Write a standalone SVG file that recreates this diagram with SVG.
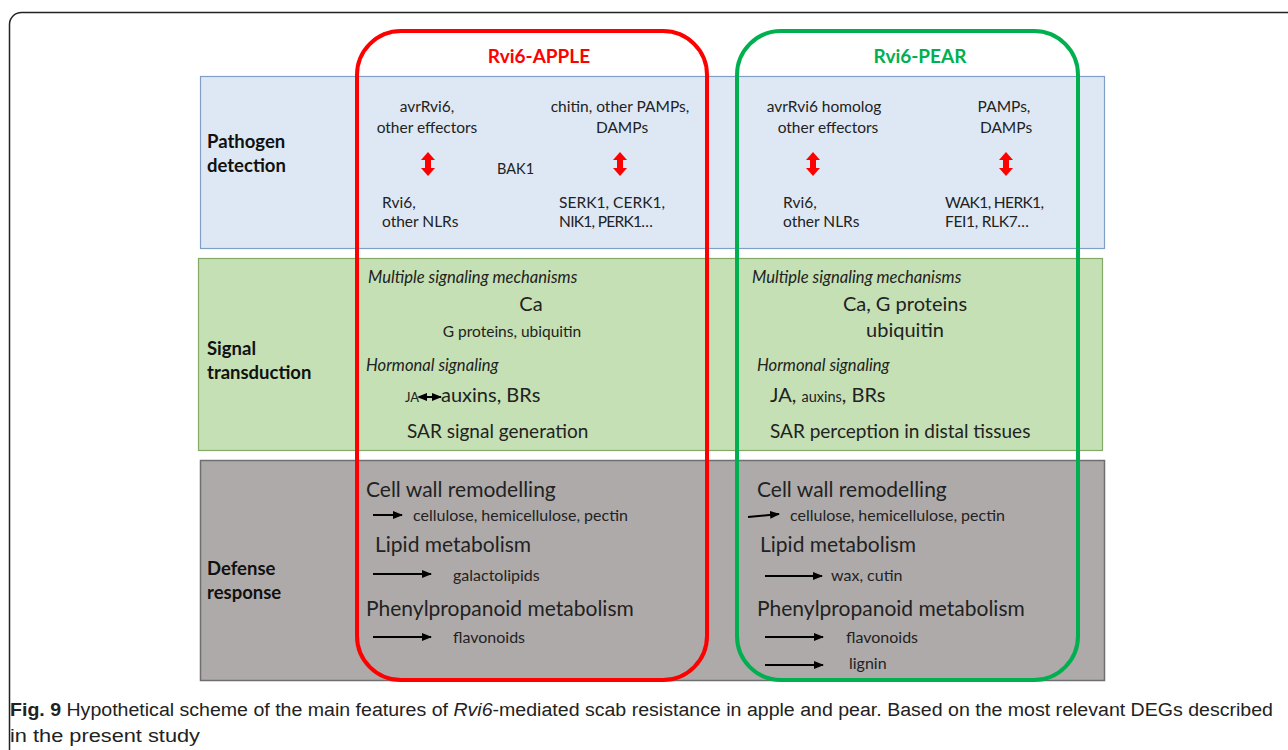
<svg xmlns="http://www.w3.org/2000/svg" width="1288" height="750" viewBox="0 0 1288 750">
<defs>
<style>
.t{font-family:Lato,"Open Sans","Liberation Sans",sans-serif;fill:#222;}
.s{font-size:15.5px;}
.d{font-size:16px;}
.m{font-size:19px;}
.L{font-size:21px;}
.h{font-size:18.5px;font-weight:bold;fill:#111;}
.i{font-style:italic;font-size:16.6px;}
.cap{font-family:"Liberation Sans Narrow","Liberation Sans",sans-serif;font-size:18px;fill:#222;}
.ar{stroke:#000;stroke-width:2;fill:none;}
</style>
<marker id="ah" viewBox="0 0 10 10" refX="9" refY="5" markerWidth="5" markerHeight="5" orient="auto"><path d="M0,1 L10,5 L0,9 Z" fill="#000"/></marker>
<marker id="ahs" viewBox="0 0 10 10" refX="1" refY="5" markerWidth="5" markerHeight="5" orient="auto-start-reverse"><path d="M0,1 L10,5 L0,9 Z" fill="#000"/></marker>
<path id="dbl" d="M0,-12 L7,-4 L3,-4 L3,4 L7,4 L0,12 L-7,4 L-3,4 L-3,-4 L-7,-4 Z" fill="#ff0000"/>
</defs>
<rect width="1288" height="750" fill="#fff"/>
<rect x="9.5" y="12.5" width="1320" height="800" rx="12" fill="none" stroke="#222" stroke-width="1.5"/>

<g id="band-detection">
<rect x="200.5" y="76.5" width="904" height="172" fill="#dee8f4" stroke="#7f9fc6" stroke-width="1.2"/>
<text class="t h" x="207" y="148">Pathogen</text>
<text class="t h" x="207" y="172">detection</text>
</g>
<g id="band-signal">
<rect x="198.5" y="258.5" width="904" height="192" fill="#c5e0b4" stroke="#84a865" stroke-width="1.2"/>
<text class="t h" x="207" y="355">Signal</text>
<text class="t h" x="207" y="379">transduction</text>
</g>
<g id="band-defense">
<rect x="200.5" y="460.5" width="904" height="220" fill="#aeaaaa" stroke="#6f6f6f" stroke-width="1.5"/>
<text class="t h" x="207" y="575">Defense</text>
<text class="t h" x="207" y="599">response</text>
</g>

<g id="apple">
<rect x="357" y="31" width="350" height="649" rx="44" fill="none" stroke="#ff0000" stroke-width="4"/>
<text class="t" x="539" y="63" text-anchor="middle" font-size="19" font-weight="bold" style="fill:#ff0000">Rvi6-APPLE</text>
<text class="t s" x="427" y="112" text-anchor="middle">avrRvi6,</text>
<text class="t s" x="427" y="133" text-anchor="middle">other effectors</text>
<text class="t s" x="620" y="112" text-anchor="middle">chitin, other PAMPs,</text>
<text class="t s" x="622" y="133" text-anchor="middle">DAMPs</text>
<use href="#dbl" x="428" y="164"/>
<use href="#dbl" x="620" y="164"/>
<text class="t" x="497" y="174" font-size="14.5">BAK1</text>
<text class="t s" x="382" y="208">Rvi6,</text>
<text class="t s" x="382" y="227">other NLRs</text>
<text class="t s" x="559" y="208" textLength="106" lengthAdjust="spacing">SERK1, CERK1,</text>
<text class="t s" x="559" y="227" textLength="94" lengthAdjust="spacing">NIK1, PERK1…</text>
<text class="t i" x="368" y="283">Multiple signaling mechanisms</text>
<text class="t" x="531" y="311" text-anchor="middle" font-size="20">Ca</text>
<text class="t s" x="512" y="337" text-anchor="middle">G proteins, ubiquitin</text>
<text class="t i" x="366" y="371">Hormonal signaling</text>
<text class="t" x="405" y="402" font-size="13">JA</text>
<text class="t" x="441" y="402" font-size="20">auxins, BRs</text>
<text class="t m" x="407" y="438">SAR signal generation</text>
<text class="t L" x="366" y="497">Cell wall remodelling</text>
<text class="t d" x="413" y="521">cellulose, hemicellulose, pectin</text>
<text class="t L" x="375" y="552">Lipid metabolism</text>
<text class="t d" x="453" y="581">galactolipids</text>
<text class="t L" x="366" y="616">Phenylpropanoid metabolism</text>
<text class="t d" x="453" y="643">flavonoids</text>
</g>

<g id="pear">
<rect x="737" y="31" width="341" height="649" rx="44" fill="none" stroke="#00b050" stroke-width="4"/>
<text class="t" x="920" y="63" text-anchor="middle" font-size="19" font-weight="bold" style="fill:#00b050">Rvi6-PEAR</text>
<text class="t s" x="824" y="112" text-anchor="middle">avrRvi6 homolog</text>
<text class="t s" x="828" y="133" text-anchor="middle">other effectors</text>
<text class="t s" x="1004" y="112" text-anchor="middle">PAMPs,</text>
<text class="t s" x="1006" y="133" text-anchor="middle">DAMPs</text>
<use href="#dbl" x="813" y="164"/>
<use href="#dbl" x="1006" y="164"/>
<text class="t s" x="783" y="208">Rvi6,</text>
<text class="t s" x="783" y="227">other NLRs</text>
<text class="t s" x="945" y="208" textLength="99" lengthAdjust="spacing">WAK1, HERK1,</text>
<text class="t s" x="945" y="227" textLength="84" lengthAdjust="spacing">FEI1, RLK7…</text>
<text class="t i" x="752" y="283">Multiple signaling mechanisms</text>
<text class="t" x="905" y="311" text-anchor="middle" font-size="20">Ca, G proteins</text>
<text class="t" x="905" y="337" text-anchor="middle" font-size="20">ubiquitin</text>
<text class="t i" x="757" y="371">Hormonal signaling</text>
<text class="t" x="770" y="402" font-size="20">JA, <tspan font-size="14.5">auxins</tspan>, BRs</text>
<text class="t m" x="770" y="438">SAR perception in distal tissues</text>
<text class="t L" x="757" y="497">Cell wall remodelling</text>
<text class="t d" x="790" y="521">cellulose, hemicellulose, pectin</text>
<text class="t L" x="760" y="552">Lipid metabolism</text>
<text class="t d" x="831" y="581">wax, cutin</text>
<text class="t L" x="757" y="616">Phenylpropanoid metabolism</text>
<text class="t d" x="846" y="643">flavonoids</text>
<text class="t d" x="849" y="669">lignin</text>
</g>

<g id="connectors">
<line class="ar" x1="426" y1="397" x2="441" y2="397" marker-start="url(#ahs)" marker-end="url(#ah)" stroke-width="1.5"/>
<line class="ar" x1="373" y1="515" x2="402" y2="515" marker-end="url(#ah)"/>
<line class="ar" x1="373" y1="574" x2="431" y2="574" marker-end="url(#ah)"/>
<line class="ar" x1="373" y1="637" x2="431" y2="637" marker-end="url(#ah)"/>
<line class="ar" x1="748" y1="517" x2="779" y2="514" marker-end="url(#ah)"/>
<line class="ar" x1="765" y1="576" x2="822" y2="576" marker-end="url(#ah)"/>
<line class="ar" x1="765" y1="637" x2="823" y2="637" marker-end="url(#ah)"/>
<line class="ar" x1="765" y1="665" x2="823" y2="665" marker-end="url(#ah)"/>
</g>

<g id="caption">
<text class="cap" x="10" y="716" textLength="1263" lengthAdjust="spacingAndGlyphs"><tspan font-weight="bold">Fig. 9</tspan> Hypothetical scheme of the main features of <tspan font-style="italic">Rvi6</tspan>-mediated scab resistance in apple and pear. Based on the most relevant DEGs described</text>
<text class="cap" x="10" y="742" textLength="190" lengthAdjust="spacingAndGlyphs">in the present study</text>
</g>
</svg>
